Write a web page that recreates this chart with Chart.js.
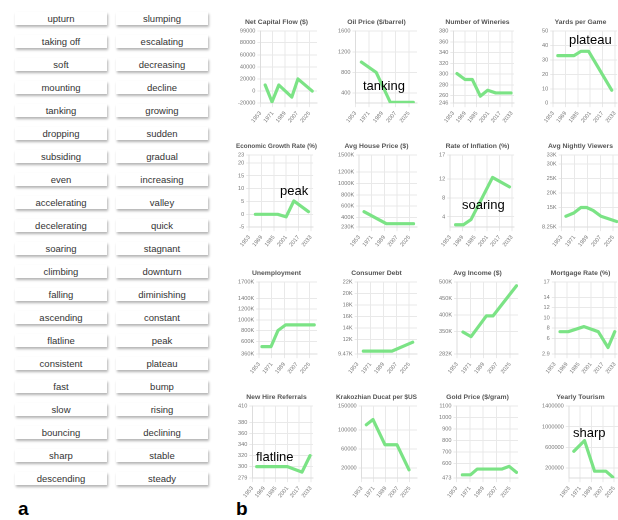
<!DOCTYPE html>
<html>
<head>
<meta charset="utf-8">
<script src="https://cdn.jsdelivr.net/npm/chart.js@4/dist/chart.umd.min.js"></script>
<style>
  body { margin: 0; width: 618px; height: 520px; overflow: hidden; position: relative; background: #fff;
         font-family: "Liberation Sans", Arial, sans-serif; }
  .word { position: absolute; width: 92px; height: 13px; line-height: 13px; font-size: 9.5px; color: #333;
          text-align: center; background: #fff; box-shadow: 1px 1.5px 2.5px rgba(0,0,0,0.3); }
  .cell { position: absolute; width: 83px; height: 111px; }
  .note { position: absolute; font-size: 13px; line-height: 14px; color: #000; white-space: nowrap; }
  .panel { position: absolute; font-size: 19px; font-weight: bold; color: #000; }
</style>
</head>
<body>
<div class="panel" style="left:18px; top:498px;">a</div>
<div class="panel" style="left:236px; top:498px;">b</div>
<script>
// word list (panel a)
const leftWords = ['upturn','taking off','soft','mounting','tanking','dropping','subsiding','even','accelerating',
  'decelerating','soaring','climbing','falling','ascending','flatline','consistent','fast','slow','bouncing','sharp','descending'];
const rightWords = ['slumping','escalating','decreasing','decline','growing','sudden','gradual','increasing','valley',
  'quick','stagnant','downturn','diminishing','constant','peak','plateau','bump','rising','declining','stable','steady'];

// x tick sets
const wideYears = [1953, 1971, 1989, 2007, 2025];
const narrowYears = [1953, 1969, 1985, 2001, 2017, 2033];

// chart data (panel b)
const capitalYears = [1960, 1970, 1980, 1999, 2008, 2029];
const capitalValues = [10000, -18000, 10000, -10000, 20000, 0];
const capitalTicks = [-20000, 0, 20000, 40000, 60000, 80000, 99000];

const oilYears = [1961, 1981, 2000, 2031];
const oilValues = [1000, 800, 220, 220];
const oilTicks = [400, 800, 1200, 1600];

const wineryYears = [1958, 1969, 1979, 1990, 2000, 2011, 2032];
const wineryValues = [301, 290, 290, 259, 270, 265, 265];
const wineryTicks = [246, 260, 280, 300, 320, 340, 360, 380];

const yardsYears = [1959, 1980, 1989, 1999, 2029];
const yardsValues = [33, 33, 36, 36, 9];
const yardsTicks = [0, 10, 20, 30, 40, 50];

const growthYears = [1961, 1990, 2001, 2011, 2030];
const growthValues = [0, 0, -1, 5.2, 1];
const growthTicks = [-5, 0, 5, 10, 15, 20, 23];

const houseYears = [1960, 1992, 2031];
const houseValues = [503000, 291000, 291000];
const houseTicks = [230000, 400000, 600000, 800000, 1000000, 1200000, 1500000];

const inflationYears = [1960, 1970, 1980, 2008, 2030];
const inflationValues = [2.3, 2.3, 3.4, 12.3, 10.3];
const inflationTicks = [4, 8, 12, 17];

const viewerYears = [1959, 1970, 1980, 1988, 1997, 2008, 2030];
const viewerValues = [12000, 13100, 15000, 15000, 14000, 12000, 10200];
const viewerTicks = [8250, 15000, 20000, 25000, 30000, 33000];

const jobsYears = [1957, 1970, 1980, 1991, 2032];
const jobsValues = [500000, 500000, 800000, 905000, 905000];
const jobsTicks = [360000, 600000, 800000, 1000000, 1200000, 1400000, 1700000];

const debtYears = [1961, 2001, 2030];
const debtValues = [10000, 10000, 11550];
const debtTicks = [9470, 12000, 14000, 16000, 18000, 20000, 22000];

const incomeYears = [1961, 1972, 1993, 2002, 2034];
const incomeValues = [349000, 335000, 398000, 398000, 489000];
const incomeTicks = [282000, 350000, 400000, 450000, 500000];

const mortgageYears = [1960, 1971, 1992, 2011, 2024, 2033];
const mortgageValues = [7.3, 7.3, 8.3, 7.3, 4.2, 7.3];
const mortgageTicks = [2.9, 6, 8, 10, 12, 14, 17];

const hireYears = [1959, 2001, 2021, 2032];
const hireValues = [300, 300, 290, 320];
const hireTicks = [279, 300, 320, 340, 360, 380, 410];

const ducatYears = [1960, 1970, 1988, 2006, 2024];
const ducatValues = [111000, 122000, 69000, 69000, 16500];
const ducatTicks = [20000, 60000, 100000, 150000];

const goldYears = [1961, 1972, 1981, 2014, 2024, 2034];
const goldValues = [502, 502, 552, 552, 576, 523];
const goldTicks = [473, 600, 700, 800, 900, 1000, 1100];

const tourismYears = [1961, 1978, 1994, 2012, 2023];
const tourismValues = [522000, 729000, 135000, 135000, 19000];
const tourismTicks = [200000, 600000, 1000000, 1400000];

const charts = [
  {title: 'Net Capital Flow ($)', x: capitalYears, y: capitalValues, ticks: capitalTicks, xt: wideYears},
  {title: 'Oil Price ($/barrel)', x: oilYears, y: oilValues, ticks: oilTicks, xt: wideYears, min: 205},
  {title: 'Number of Wineries', x: wineryYears, y: wineryValues, ticks: wineryTicks, xt: narrowYears},
  {title: 'Yards per Game', x: yardsYears, y: yardsValues, ticks: yardsTicks, xt: narrowYears},
  {title: 'Economic Growth Rate (%)', x: growthYears, y: growthValues, ticks: growthTicks, xt: narrowYears},
  {title: 'Avg House Price ($)', x: houseYears, y: houseValues, ticks: houseTicks, xt: wideYears, k: true},
  {title: 'Rate of Inflation (%)', x: inflationYears, y: inflationValues, ticks: inflationTicks, xt: narrowYears, min: 1.8},
  {title: 'Avg Nightly Viewers', x: viewerYears, y: viewerValues, ticks: viewerTicks, xt: wideYears, k: true},
  {title: 'Unemployment', x: jobsYears, y: jobsValues, ticks: jobsTicks, xt: wideYears, k: true},
  {title: 'Consumer Debt', x: debtYears, y: debtValues, ticks: debtTicks, xt: wideYears, k: true},
  {title: 'Avg Income ($)', x: incomeYears, y: incomeValues, ticks: incomeTicks, xt: wideYears, k: true},
  {title: 'Mortgage Rate (%)', x: mortgageYears, y: mortgageValues, ticks: mortgageTicks, xt: narrowYears},
  {title: 'New Hire Referrals', x: hireYears, y: hireValues, ticks: hireTicks, xt: narrowYears},
  {title: 'Krakozhian Ducat per $US', x: ducatYears, y: ducatValues, ticks: ducatTicks, xt: wideYears, min: -1000},
  {title: 'Gold Price ($/gram)', x: goldYears, y: goldValues, ticks: goldTicks, xt: wideYears},
  {title: 'Yearly Tourism', x: tourismYears, y: tourismValues, ticks: tourismTicks, xt: wideYears, min: 0}
];

// annotation words on the charts
const notes = [
  {text: 'tanking', left: 363, top: 79},
  {text: 'plateau', left: 569, top: 33},
  {text: 'peak', left: 280, top: 184},
  {text: 'soaring', left: 462, top: 198},
  {text: 'flatline', left: 256, top: 450},
  {text: 'sharp', left: 573, top: 426}
];

// build word buttons
leftWords.forEach((w, i) => {
  const d = document.createElement('div');
  d.className = 'word';
  d.style.left = '15px';
  d.style.top = (12 + i * 23) + 'px';
  d.textContent = w;
  document.body.appendChild(d);
});
rightWords.forEach((w, i) => {
  const d = document.createElement('div');
  d.className = 'word';
  d.style.left = '116px';
  d.style.top = (12 + i * 23) + 'px';
  d.textContent = w;
  document.body.appendChild(d);
});

const FONT = '"Liberation Sans", Arial, sans-serif';
const colLeft = [236, 336, 437, 540];
const rowTop = [16, 140, 267, 391];

charts.forEach((c, i) => {
  const cell = document.createElement('div');
  cell.className = 'cell';
  cell.style.left = colLeft[i % 4] + 'px';
  cell.style.top = rowTop[Math.floor(i / 4)] + 'px';
  const cv = document.createElement('canvas');
  cv.width = 83; cv.height = 111;
  cell.appendChild(cv);
  document.body.appendChild(cell);

  const points = c.x.map((yr, j) => ({x: yr, y: c.y[j]}));
  const yMin = c.min !== undefined ? c.min : c.ticks[0];
  const yMax = c.ticks[c.ticks.length - 1];

  new Chart(cv.getContext('2d'), {
    type: 'line',
    data: {
      datasets: [{
        data: points,
        borderColor: '#7be385',
        borderWidth: 3.2,
        pointRadius: 0,
        borderCapStyle: 'round',
        borderJoinStyle: 'round',
        fill: false,
        tension: 0
      }]
    },
    options: {
      responsive: false,
      animation: false,
      devicePixelRatio: 2,
      layout: {padding: {right: 2}},
      plugins: {
        legend: {display: false},
        tooltip: {enabled: false},
        title: {display: true, text: c.title, color: '#555',
                font: {size: 6.8, weight: 'bold', family: FONT}, padding: {top: 2, bottom: 5}}
      },
      scales: {
        x: {
          type: 'linear', min: 1953, max: 2036,
          afterBuildTicks: ax => { ax.ticks = c.xt.map(v => ({value: v})); },
          ticks: {autoSkip: false, minRotation: 50, maxRotation: 50, padding: 3, color: '#777',
                  font: {size: 5.6, family: FONT}, callback: v => String(v)},
          grid: {color: '#e9e9e9', tickLength: 4},
          border: {color: '#ddd'}
        },
        y: {
          min: yMin, max: yMax,
          afterBuildTicks: ax => { ax.ticks = c.ticks.map(v => ({value: v})); },
          ticks: {autoSkip: false, padding: 2, color: '#777', font: {size: 5.6, family: FONT},
                  callback: v => c.k ? (v / 1000) + 'K' : String(v)},
          grid: {color: '#e9e9e9', tickLength: 3},
          border: {color: '#ddd'}
        }
      }
    }
  });
});

notes.forEach(n => {
  const d = document.createElement('div');
  d.className = 'note';
  d.style.left = n.left + 'px';
  d.style.top = n.top + 'px';
  d.textContent = n.text;
  document.body.appendChild(d);
});
</script>
</body>
</html>
